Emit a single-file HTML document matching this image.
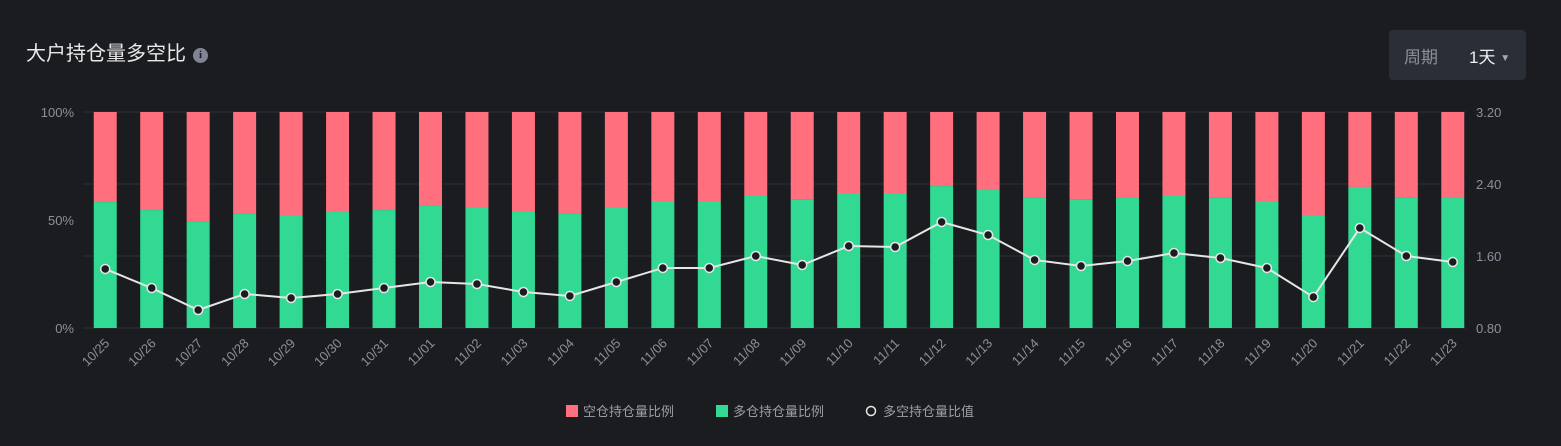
<!DOCTYPE html>
<html><head><meta charset="utf-8">
<style>
body{margin:0;background:#1b1c20;width:1561px;height:446px;overflow:hidden;font-family:"Liberation Sans","Noto Sans CJK SC",sans-serif;}
.title{position:absolute;left:26px;top:37px;font-size:20px;color:#e8e9eb;}
.info{display:inline-block;width:15px;height:15px;border-radius:50%;background:#7f8592;color:#1b1c20;font-size:11px;font-weight:bold;text-align:center;line-height:15px;vertical-align:2px;margin-left:7px;font-family:"Liberation Serif",serif;}
.period{position:absolute;left:1389px;top:30px;width:137px;height:50px;background:#2a2e36;border-radius:4px;}
.period .l{position:absolute;left:15px;top:13px;font-size:17px;color:#8b909a;}
.period .v{position:absolute;left:80px;top:13px;font-size:17px;color:#eef0f2;}
</style></head><body>
<div class="title">大户持仓量多空比<span class="info">i</span></div>
<div class="period"><span class="l">周期</span><span class="v">1天 <span style="font-size:10px;color:#aaa;vertical-align:2px">▼</span></span></div>
<svg id="chart" width="1561" height="446" style="position:absolute;left:0;top:0"></svg>
<script>
const categories=["10/25","10/26","10/27","10/28","10/29","10/30","10/31","11/01","11/02","11/03","11/04","11/05","11/06","11/07","11/08","11/09","11/10","11/11","11/12","11/13","11/14","11/15","11/16","11/17","11/18","11/19","11/20","11/21","11/22","11/23"];
const longPct=[58.3,54.6,49.5,53.2,52.3,53.7,54.6,56.5,56.0,53.7,53.2,56.0,58.8,58.8,61.1,59.3,62.5,62.5,65.7,63.9,60.6,59.3,60.2,61.1,60.6,58.8,52.3,65.3,60.6,60.2];
const ratio=[1.456,1.244,1.0,1.178,1.133,1.178,1.244,1.311,1.289,1.2,1.156,1.311,1.467,1.467,1.6,1.5,1.711,1.7,1.978,1.833,1.556,1.489,1.544,1.633,1.578,1.467,1.144,1.911,1.6,1.533];
const leftTicks=[0,50,100];
const rightTicks=[0.8,1.6,2.4,3.2];
const NS="http://www.w3.org/2000/svg";
const svg=document.getElementById('chart');
const X0=82,X1=1476,Y0=328,Y1=112;
const step=(X1-X0)/categories.length;
function xc(i){return X0+step*(i+0.5);}
function yL(p){return Y0-(p/100)*(Y0-Y1);}
function yR(v){return Y0-(v-0.8)/(3.2-0.8)*(Y0-Y1);}
function mk(t,a){const e=document.createElementNS(NS,t);for(const k in a)e.setAttribute(k,a[k]);svg.appendChild(e);return e;}
rightTicks.forEach(v=>{
 const g=mk('line',{x1:X0,x2:1466,y1:yR(v),y2:yR(v),stroke:'#2c2f36','stroke-width':1});
 
 
 const t=mk('text',{x:1476,y:yR(v)+5,fill:'#8b909a','font-size':13});
 t.textContent=v.toFixed(2);
 
 
});
leftTicks.forEach(p=>{
 const t=mk('text',{x:74,y:yL(p)+5,fill:'#8b909a','font-size':13,'text-anchor':'end'});
 t.textContent=p+'%';
 
 
});
const bw=23;
categories.forEach((c,i)=>{
 const x=xc(i)-bw/2;
 const r=mk('rect',{x:x,y:yL(100),width:bw,height:yL(longPct[i])-yL(100),fill:'#ff6f7d'});
 
 
 const g=mk('rect',{x:x,y:yL(longPct[i]),width:bw,height:Y0-yL(longPct[i]),fill:'#32d993'});
 
 
 const t=mk('text',{x:0,y:0,fill:'#8b909a','font-size':13,'text-anchor':'end',transform:`translate(${xc(i)+5},${344}) rotate(-45)`});
 t.textContent=c;
 
 
});
const pl=mk('polyline',{points:ratio.map((v,i)=>xc(i)+','+yR(v)).join(' '),fill:'none',stroke:'#e6e6e6','stroke-width':2});


ratio.forEach((v,i)=>{
 const c=mk('circle',{cx:xc(i),cy:yR(v),r:4.5,fill:'#1b1c20',stroke:'#e6e6e6','stroke-width':1.5});
 
 
});
const legend=[['rect','#ff6f7d','空仓持仓量比例',566],['rect','#32d993','多仓持仓量比例',716],['circle','#e6e6e6','多空持仓量比值',866]];
legend.forEach(l=>{
 let m;
 if(l[0]==='rect'){m=mk('rect',{x:l[3],y:405,width:12,height:12,fill:l[1]});}
 else{m=mk('circle',{cx:l[3]+5,cy:411,r:4.5,fill:'#1b1c20',stroke:l[1],'stroke-width':1.5});}
 
 
 const t=mk('text',{x:l[3]+17,y:416,fill:'#9a9fa8','font-size':13});
 t.textContent=l[2];
 
 
});
</script>
</body></html>
